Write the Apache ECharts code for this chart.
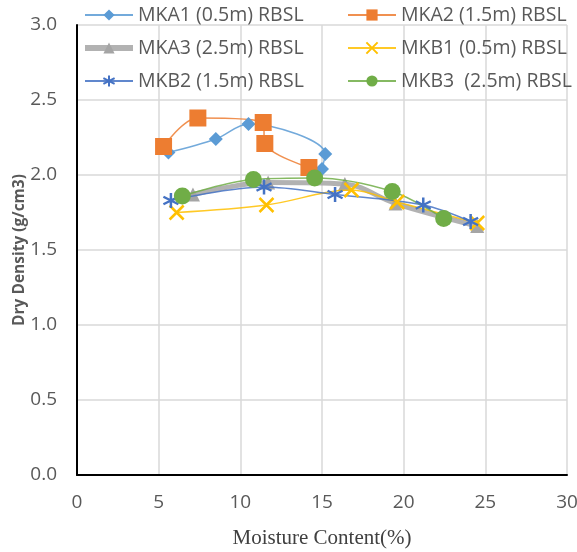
<!DOCTYPE html>
<html>
<head>
<meta charset="utf-8">
<script src="https://cdn.jsdelivr.net/npm/echarts@6/dist/echarts.min.js"></script>
<style>html,body{margin:0;padding:0;background:#fff}#c{width:577px;height:552px}</style>
</head>
<body>
<div id="c"></div>
<script>
const seriesNames = ['MKA1 (0.5m) RBSL','MKA2 (1.5m) RBSL','MKA3 (2.5m) RBSL','MKB1 (0.5m) RBSL','MKB2 (1.5m) RBSL','MKB3  (2.5m) RBSL'];
const mka1X = [5.6, 8.5, 10.5, 15.2, 15.0];
const mka1Y = [2.15, 2.24, 2.34, 2.14, 2.04];
const mka2X = [5.3, 7.4, 11.4, 11.5, 14.2];
const mka2Y = [2.19, 2.38, 2.35, 2.21, 2.05];
const mka3X = [7.1, 11.7, 16.4, 19.5, 24.5];
const mka3Y = [1.87, 1.95, 1.94, 1.81, 1.66];
const mkb1X = [6.1, 11.6, 16.8, 19.6, 24.5];
const mkb1Y = [1.75, 1.80, 1.90, 1.82, 1.68];
const mkb2X = [5.75, 11.45, 15.8, 21.2, 24.1];
const mkb2Y = [1.83, 1.92, 1.87, 1.80, 1.69];
const mkb3X = [6.45, 10.8, 14.55, 19.3, 22.45];
const mkb3Y = [1.86, 1.97, 1.98, 1.89, 1.71];
const yTicks = ['0.0','0.5','1.0','1.5','2.0','2.5','3.0'];

const pairs = (xs, ys) => xs.map((x, i) => [x, ys[i]]);
const crossPath = 'path://M0,0 L10,10 M10,0 L0,10';
const starPath = 'path://M5,0 L5,10 M0.7,2.5 L9.3,7.5 M0.7,7.5 L9.3,2.5';

function mk(name, xs, ys, color, symbol, size, lw, extra) {
  return Object.assign({
    name: name, type: 'line', smooth: 0.35,
    data: pairs(xs, ys),
    symbol: symbol, symbolSize: size,
    lineStyle: { color: color, width: lw, opacity: 0.85 },
    itemStyle: { color: color },
    emphasis: { disabled: true },
    z: 3
  }, extra || {});
}

const series = [
  mk(seriesNames[0], mka1X, mka1Y, '#5B9BD5', 'diamond', 14, 1.5),
  mk(seriesNames[1], mka2X, mka2Y, '#ED7D31', 'rect', 17, 1.5),
  mk(seriesNames[2], mka3X, mka3Y, '#A5A5A5', 'triangle', 14, 5, { z: 2 }),
  mk(seriesNames[3], mkb1X, mkb1Y, '#FFC000', crossPath, 14, 1.5,
     { itemStyle: { color: 'rgba(0,0,0,0)', borderColor: '#FFC000', borderWidth: 2.5 } }),
  mk(seriesNames[4], mkb2X, mkb2Y, '#4472C4', starPath, 15, 1.5,
     { itemStyle: { color: 'rgba(0,0,0,0)', borderColor: '#4472C4', borderWidth: 2.5 } }),
  mk(seriesNames[5], mkb3X, mkb3Y, '#70AD47', 'circle', 17, 1.5)
];

const sans = 'Open Sans, Liberation Sans, sans-serif';
const legendText = { color: '#595959', fontSize: 19.5, lineHeight: 20, fontFamily: sans, padding: [0, 0, 0, 0] };
const legItem = (n) => n === seriesNames[2]
  ? { name: n, lineStyle: { width: 6 } }
  : { name: n };
const chart = echarts.init(document.getElementById('c'), null, { renderer: 'canvas' });
chart.setOption({
  animation: false,
  backgroundColor: '#fff',
  grid: { left: 77, right: 10, top: 25, bottom: 77, containLabel: false, outerBoundsMode: 'none' },
  legend: [
    { orient: 'vertical', left: 81, top: 4, itemGap: 13, itemWidth: 48, itemHeight: 14, padding: 1,
      data: [seriesNames[0], seriesNames[2], seriesNames[4]].map(legItem), textStyle: legendText, selectedMode: false },
    { orient: 'vertical', left: 346, top: 4, itemGap: 13, itemWidth: 48, itemHeight: 14, padding: 1,
      data: [seriesNames[1], seriesNames[3], seriesNames[5]].map(legItem), textStyle: legendText, selectedMode: false }
  ],
  xAxis: {
    type: 'value', min: 0, max: 30, interval: 5,
    name: 'Moisture Content(%)', nameLocation: 'middle', nameGap: 53,
    nameTextStyle: { color: '#404040', fontSize: 21, fontFamily: 'Liberation Serif, serif' },
    axisLine: { show: true, onZero: false, lineStyle: { color: '#000', width: 2 } },
    axisTick: { show: false },
    axisLabel: { color: '#595959', fontSize: 19, margin: 18, fontFamily: sans },
    splitLine: { show: true, lineStyle: { color: '#D9D9D9', width: 1.5 } }
  },
  yAxis: {
    type: 'value', min: 0, max: 3, interval: 0.5,
    name: 'Dry Density (g/cm3)', nameLocation: 'middle', nameGap: 49, nameMoveOverlap: false,
    nameTextStyle: { color: '#595959', fontSize: 15.5, fontWeight: 'bold', fontFamily: sans },
    axisLine: { show: true, onZero: false, lineStyle: { color: '#000', width: 2 } },
    axisTick: { show: false },
    axisLabel: { color: '#595959', fontSize: 19, margin: 20, fontFamily: sans,
      formatter: (v) => yTicks[Math.round(v / 0.5)] },
    splitLine: { show: true, lineStyle: { color: '#D9D9D9', width: 1.5 } }
  },
  series: series
});
</script>
</body>
</html>
